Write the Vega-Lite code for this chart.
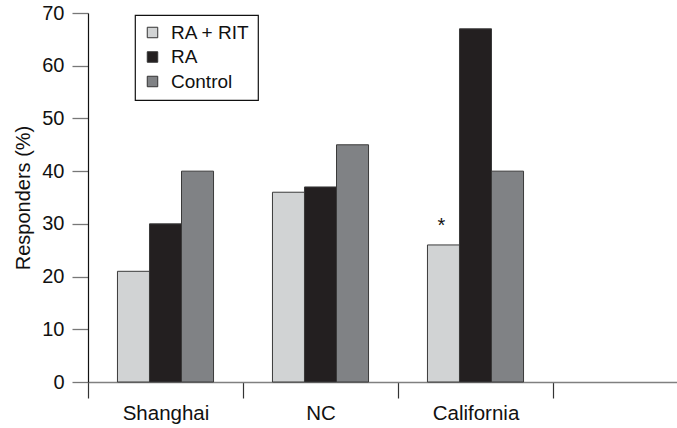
{
  "$schema": "https://vega.github.io/schema/vega-lite/v6.json",
  "autosize": "none",
  "width": 620,
  "height": 369,
  "padding": {"left": 88, "top": 13, "right": 0, "bottom": 46},
  "background": "white",
  "config": {
    "view": {"stroke": null},
    "font": "Liberation Sans",
    "legend": {
      "orient": "none",
      "legendX": 47,
      "legendY": 2,
      "strokeColor": "#111111",
      "strokeWidth": 1.2,
      "fillColor": "white",
      "padding": 8,
      "labelFontSize": 19,
      "labelColor": "#111111",
      "labelOffset": 9,
      "symbolType": "square",
      "symbolSize": 110,
      "symbolStrokeColor": "#333333",
      "symbolStrokeWidth": 1,
      "rowPadding": 4.5
    }
  },
  "datasets": {
    "bars": [
      {"site": "Shanghai", "group": "RA + RIT", "value": 21},
      {"site": "Shanghai", "group": "RA", "value": 30},
      {"site": "Shanghai", "group": "Control", "value": 40},
      {"site": "NC", "group": "RA + RIT", "value": 36},
      {"site": "NC", "group": "RA", "value": 37},
      {"site": "NC", "group": "Control", "value": 45},
      {"site": "California", "group": "RA + RIT", "value": 26},
      {"site": "California", "group": "RA", "value": 67},
      {"site": "California", "group": "Control", "value": 40}
    ],
    "marks": [
      {"site": "California", "group": "RA + RIT", "value": 26, "label": "*"}
    ]
  },
  "layer": [
    {
      "data": {"name": "bars"},
      "mark": {"type": "bar", "stroke": "#3a3a3a", "strokeWidth": 1},
      "encoding": {
        "x": {
          "field": "site",
          "type": "nominal",
          "scale": {"domain": ["Shanghai", "NC", "California", " "], "paddingInner": 0, "paddingOuter": 0},
          "axis": {
            "title": null,
            "labelAngle": 0,
            "labelFontSize": 20.5,
            "labelColor": "#111111",
            "labelPadding": 5,
            "tickBand": "extent",
            "tickSize": 16,
            "tickColor": "#333333",
            "tickWidth": 1.2,
            "domainColor": "#808080",
            "domainWidth": 1.5
          }
        },
        "xOffset": {
          "field": "group",
          "type": "nominal",
          "scale": {"domain": ["RA + RIT", "RA", "Control"], "paddingInner": 0, "paddingOuter": 0.92}
        },
        "y": {
          "field": "value",
          "type": "quantitative",
          "scale": {"domain": [0, 70], "nice": false},
          "axis": {
            "title": "Responders (%)",
            "titleFontSize": 20,
            "titleFontWeight": "normal",
            "titleColor": "#111111",
            "titlePadding": 8,
            "values": [0, 10, 20, 30, 40, 50, 60, 70],
            "labelFontSize": 20,
            "labelColor": "#111111",
            "labelPadding": 8,
            "tickSize": 16,
            "tickColor": "#777777",
            "tickWidth": 1.3,
            "domainColor": "#111111",
            "domainWidth": 1.2,
            "grid": false
          }
        },
        "color": {
          "field": "group",
          "type": "nominal",
          "scale": {"domain": ["RA + RIT", "RA", "Control"], "range": ["#d1d3d4", "#231f20", "#808285"]},
          "legend": {"title": null}
        }
      }
    },
    {
      "data": {"name": "marks"},
      "mark": {"type": "text", "fontSize": 20, "baseline": "alphabetic", "dy": -13, "dx": -2, "color": "#111111"},
      "encoding": {
        "x": {"field": "site", "type": "nominal"},
        "xOffset": {"field": "group", "type": "nominal"},
        "y": {"field": "value", "type": "quantitative"},
        "text": {"field": "label"}
      }
    }
  ]
}
